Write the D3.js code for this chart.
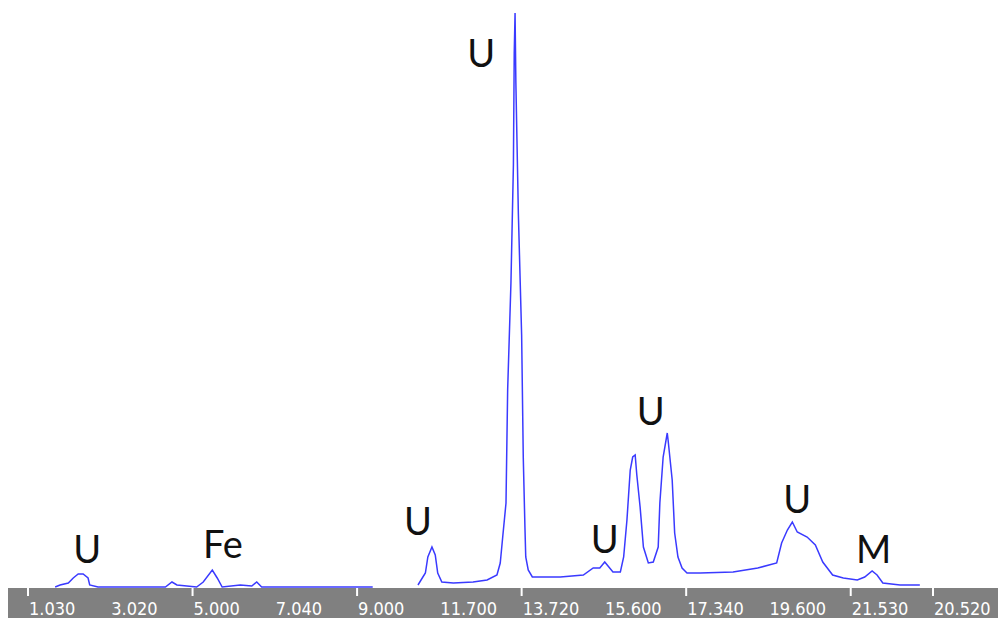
<!DOCTYPE html>
<html>
<head>
<meta charset="utf-8">
<script src="https://cdn.jsdelivr.net/npm/d3@7"></script>
<style>
html,body{margin:0;padding:0;background:#fff;}
svg{display:block;}
</style>
</head>
<body>
<svg id="chart" width="1000" height="618"></svg>
<script>
// ---- data ----
// channel positions of spectrum samples (null = gap in the trace)
const channels = [33,39,49,55,61,67,73,75,85,167,175,181,205,213,224,230,236,258,272,278,284,419,440,
  474,483,486,491,495,498,503,517,541,558,570,574,577,
  581,583,587,590,591,592,593,596,600,602,604,605,608,613,628,647,675,687,695,701,711,720,
  724,728,732,735,738,740,744,748,754,760,766,768,772,777,778,783,786,790,795,801,817,
  857,887,910,916,923,929,935,947,957,966,978,991,1008,1017,1026,1032,1039,1060,1084];
const counts = [0,20,40,90,130,130,90,20,0,0,50,20,0,50,170,90,0,20,10,50,0,0,null,
  20,140,300,400,320,140,50,40,50,70,120,240,500,
  840,1970,3040,4220,5340,5740,5040,3740,2520,1290,600,300,170,100,100,100,120,190,190,250,150,150,
  300,670,1170,1300,1320,1120,800,400,240,250,400,840,1300,1540,1470,1070,540,300,190,140,140,
  150,190,240,440,570,650,550,500,420,250,120,90,70,100,160,120,40,20,20];

// peak labels
const peakLabels   = ["U","Fe","U","U","U","U","U","M"];
const peakChannels = [72,237,474,551,701,757,935,1028];
const peakCounts   = [240,290,520,5200,340,1620,740,240];

// axis tick labels (one per 100 channels)
const tickLabels = ["1.030","3.020","5.000","7.040","9.000","11.700","13.720","15.600","17.340","19.600","21.530","20.520"];
const tickChannels = [0,100,200,300,400,500,600,700,800,900,1000,1100];
const majorTicks = [0,200,400,600,800,1000,1100];

// ---- drawing ----
const svg = d3.select("#chart");
const x = d3.scaleLinear().domain([0,1100]).range([28,933]);
const y = d3.scaleLinear().domain([0,5770]).range([587,10]);

// axis band
svg.append("rect").attr("x",8).attr("y",588).attr("width",990).attr("height",30).attr("fill","#808080");

svg.selectAll("line.tick").data(majorTicks).enter().append("line")
  .attr("class","tick")
  .attr("x1",d=>x(d)).attr("x2",d=>x(d))
  .attr("y1",588).attr("y2",596)
  .attr("stroke","#ffffff").attr("stroke-width",2);

svg.selectAll("text.tl").data(tickLabels).enter().append("text")
  .attr("class","tl")
  .attr("x",(d,i)=>x(tickChannels[i])+1)
  .attr("y",615)
  .attr("fill","#ffffff")
  .attr("font-family","'DejaVu Sans Condensed','DejaVu Sans',sans-serif")
  .attr("font-size",18)
  .text(d=>d);

// spectrum
const pts = channels.map((c,i)=>({c:c,n:counts[i]}));
const line = d3.line()
  .defined(d=>d.n!==null)
  .x(d=>x(d.c)).y(d=>y(d.n));
svg.append("path").datum(pts)
  .attr("d",line)
  .attr("fill","none")
  .attr("stroke","#3a3aff")
  .attr("stroke-width",1.5)
  .attr("stroke-linejoin","miter");

// peak labels
svg.selectAll("text.pk").data(peakLabels).enter().append("text")
  .attr("class","pk")
  .attr("x",(d,i)=>x(peakChannels[i]))
  .attr("y",(d,i)=>y(peakCounts[i]))
  .attr("text-anchor","middle")
  .attr("fill","#111")
  .attr("font-family","Lato, 'Open Sans', sans-serif")
  .attr("font-size",38)
  .text(d=>d);
</script>
</body>
</html>
